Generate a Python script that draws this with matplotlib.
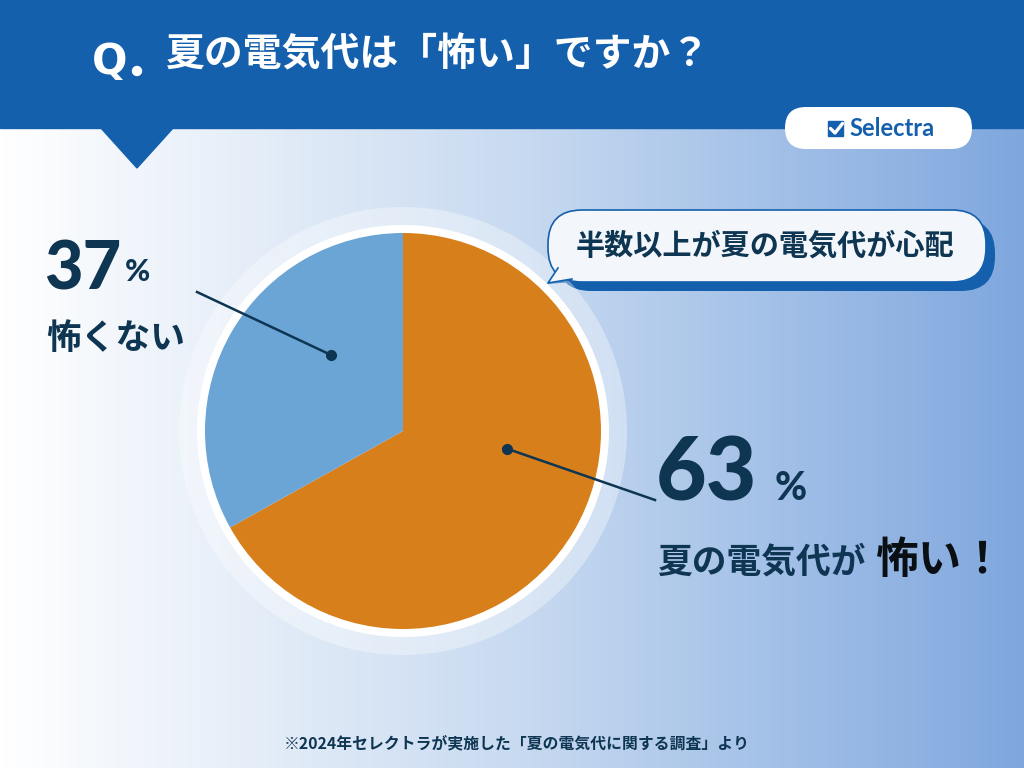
import numpy as np
import matplotlib.pyplot as plt
from matplotlib.patches import Rectangle, Polygon, FancyBboxPatch, Circle
from matplotlib.colors import LinearSegmentedColormap

plt.rcParams['font.family'] = ['Noto Sans CJK JP', 'DejaVu Sans']

# データ
question = "夏の電気代は「怖い」ですか？"
labels = ["夏の電気代が", "怖くない"]
label_pcts = [63, 37]
# 円グラフの扇の大きさ
slice_shares = [66.9, 33.1]
slice_colors = ["#D77F1A", "#6AA5D5"]
bubble_text = "半数以上が夏の電気代が心配"
source_note = "※2024年セレクトラが実施した「夏の電気代に関する調査」より"

NAVY = "#0E3552"
BLUE = "#1560AC"
NUM_FONT = ['Lato', 'DejaVu Sans']
W, H = 1024, 768


def Y(py):
    # 画像のピクセル座標 (上が0) -> 軸座標
    return H - py


fig = plt.figure(figsize=(10.24, 7.68), dpi=100)
ax = fig.add_axes([0, 0, 1, 1])
ax.set_xlim(0, W)
ax.set_ylim(0, H)
ax.set_aspect('equal')
ax.axis('off')

# 背景のグラデーション
cmap = LinearSegmentedColormap.from_list(
    "bg", [(0, "#FFFFFF"), (0.5, "#C9DBF1"), (1, "#7FA7DE")])
grad = np.linspace(0, 1, 512).reshape(1, -1)
ax.imshow(grad, cmap=cmap, extent=[0, W, 0, H], aspect='auto', zorder=0)

# ヘッダー
ax.add_patch(Rectangle((0, Y(128)), W, 128, color=BLUE, zorder=1))
ax.add_patch(Polygon([(100, Y(127)), (174, Y(127)), (137, Y(168))],
                     closed=True, color=BLUE, zorder=1))
ax.text(92, Y(62), "Q", color="white", fontsize=30, fontweight='bold',
        va='center', ha='left', family=['DejaVu Sans'], zorder=2)
ax.add_patch(Circle((137, Y(71)), 4.5, color="white", zorder=2))
ax.text(166, Y(55), question, color="white", fontsize=28, fontweight='bold',
        va='center', ha='left', zorder=2)

# Selectra ロゴ
ax.add_patch(FancyBboxPatch((785, Y(149)), 187, 42,
                            boxstyle="round,pad=0,rounding_size=21",
                            fc="white", ec="none", zorder=2))
ax.add_patch(Rectangle((828, Y(136)), 15, 15, color=BLUE, zorder=3))
ax.plot([830.5, 835, 842.5], [Y(128.5), Y(133), Y(123.5)], color="white",
        lw=2.4, solid_capstyle='round', zorder=4)
ax.text(849, Y(128.5), "Selectra", color=BLUE, fontsize=17, fontweight='bold',
        va='center', ha='left', family=NUM_FONT, zorder=3)

# 吹き出し
bx, by, bw, bh = 548, 282, 438, 72
ax.add_patch(FancyBboxPatch((bx + 9, Y(by + 9)), bw, bh,
                            boxstyle="round,pad=0,rounding_size=34",
                            fc=BLUE, ec="none", zorder=2))
ax.add_patch(Polygon([(556, Y(272)), (547, Y(284)), (575, Y(282))],
                     closed=True, fc=BLUE, ec="none", zorder=2))
ax.add_patch(FancyBboxPatch((bx, Y(by)), bw, bh,
                            boxstyle="round,pad=0,rounding_size=34",
                            fc="#F3F7FB", ec=BLUE, lw=1.2, zorder=3))
ax.add_patch(Polygon([(558, Y(268)), (548, Y(283)), (572, Y(279))],
                     closed=True, fc="#F3F7FB", ec="none", zorder=4))
ax.plot([558, 548, 572], [Y(268), Y(283), Y(279)], color=BLUE, lw=1.2, zorder=4)
ax.text(bx + bw / 2 - 2, Y(246), bubble_text, color=NAVY, fontsize=21,
        fontweight='bold', ha='center', va='center', zorder=5)

# 円グラフ
cx, cy, R = 403, Y(431), 198
ax.add_patch(Circle((cx, cy), 224, fc="white", alpha=0.35, ec="none", zorder=2))
ax.add_patch(Circle((cx, cy), R + 8, fc="white", ec="none", zorder=3))
wedges, _ = ax.pie(slice_shares, colors=slice_colors, startangle=90,
                   counterclock=False, center=(cx, cy), radius=R,
                   wedgeprops=dict(linewidth=0), frame=True)
for w in wedges:
    w.set_zorder(4)
ax.set_xlim(0, W)
ax.set_ylim(0, H)
ax.axis('off')

# 引き出し線
def leader(angle_deg, r, end):
    a = np.deg2rad(angle_deg)
    px, py = cx + r * np.cos(a), cy + r * np.sin(a)
    ax.plot([px, end[0]], [py, end[1]], color=NAVY, lw=1.8, zorder=5)
    ax.plot(px, py, 'o', color=NAVY, ms=7, zorder=6)

leader(133.5, 105, (197, Y(292)))
leader(-9.7, 106, (655, Y(500)))

# ラベル: 怖くない
ax.text(44, Y(270), str(label_pcts[1]), color=NAVY, fontsize=48,
        fontweight='black', ha='left', va='center', family=NUM_FONT, zorder=5)
ax.text(125, Y(272), "%", color=NAVY, fontsize=22, fontweight='black',
        ha='left', va='center', family=NUM_FONT, zorder=5)
ax.text(46, Y(338), labels[1], color=NAVY, fontsize=25, fontweight='bold',
        ha='left', va='center', zorder=5)

# ラベル: 怖い
ax.text(656, Y(475), str(label_pcts[0]), color=NAVY, fontsize=63,
        fontweight='black', ha='left', va='center', family=NUM_FONT, zorder=5)
ax.text(775, Y(488), "%", color=NAVY, fontsize=28, fontweight='black',
        ha='left', va='center', family=NUM_FONT, zorder=5)
ax.text(657, Y(562), labels[0], color=NAVY, fontsize=25, fontweight='bold',
        ha='left', va='center', zorder=5)
ax.text(876, Y(560), "怖い！", color="#0A0F14", fontsize=31, fontweight='bold',
        ha='left', va='center', zorder=5)

# 出典
ax.text(517, Y(743), source_note, color=NAVY, fontsize=11.4, fontweight='bold',
        ha='center', va='center', zorder=5)

fig.savefig("out.png", dpi=100)
